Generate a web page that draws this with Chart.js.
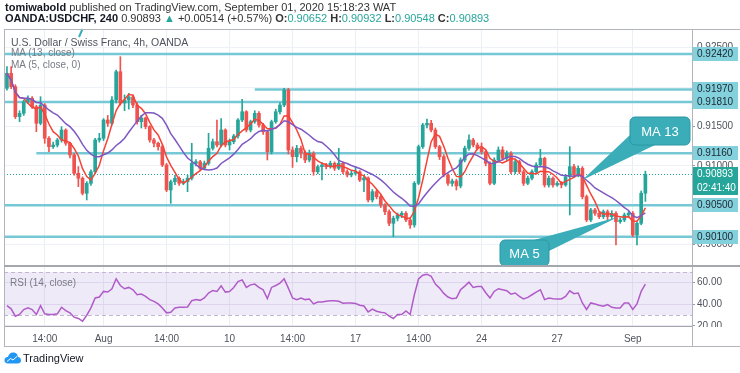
<!DOCTYPE html>
<html lang="en">
<head>
<meta charset="UTF-8">
<title>USDCHF 4h</title>
<script src="https://cdn.jsdelivr.net/npm/chart.js"></script>
<style>
  body { margin: 0; background: #fff; font-family: "Liberation Sans", Arial, sans-serif; }
  #wrap { position: relative; width: 740px; height: 373px; overflow: hidden; }
  #chart { position: absolute; left: 0; top: 0; }
  .t { position: absolute; white-space: nowrap; z-index: 2; }
  .g { color: #26a69a; }
  .h1 { left: 5px; top: 1px; font-size: 11px; color: #333; }
  .h2 { left: 5px; top: 12px; font-size: 11px; color: #333; }
  .lg { left: 11px; font-size: 10px; color: #787b86; }
  .logo { left: 4px; top: 352px; font-size: 11px; color: #131722; display: flex; align-items: center; gap: 2px; }
</style>
</head>
<body>
<div id="wrap">
  <canvas id="chart" width="740" height="373"></canvas>
  <div class="t h1"><b style="color:#131722">tomiwabold</b> published on TradingView.com, September 01, 2020 15:18:23 WAT</div>
  <div class="t h2"><b style="color:#131722">OANDA:USDCHF, 240</b> 0.90893 <span class="g">&#9650;</span> +0.00514 (+0.57%) <b>O:</b><span class="g">0.90652</span> <b>H:</b><span class="g">0.90932</span> <b>L:</b><span class="g">0.90548</span> <b>C:</b><span class="g">0.90893</span></div>
  <div class="t lg" style="top:36px;color:#50535e;font-size:10.5px">U.S. Dollar / Swiss Franc, 4h, OANDA</div>
  <div class="t lg" style="top:47px">MA (13, close)</div>
  <div class="t lg" style="top:59px">MA (5, close, 0)</div>
  <div class="t lg" style="top:277px;left:10px">RSI (14, close)</div>
  <div class="t logo">
    <svg width="17" height="12" viewBox="0 0 34 24"><path d="M8 23C3 23 0 19 1 15C2 11 5 10 8 10C9 5 13 1 18 1C24 1 28 5 28 10C31 10 34 13 34 17C34 21 31 23 27 23Z" fill="#2196f3"/><path d="M6 19L13 13L18 16L27 8" stroke="#fff" stroke-width="2" fill="none"/></svg>
    <span>TradingView</span>
  </div>
</div>
<script>
const opens = [
  0.91984,0.92175,0.92005,0.91624,0.91667,0.91814,0.91858,0.91751,0.91540,0.91772,
  0.91350,0.91243,0.91264,0.91328,0.91455,0.91286,0.91138,0.90905,0.90842,0.90651,
  0.90778,0.90925,0.91328,0.91350,0.91582,0.91540,0.91836,0.92195,0.91798,0.91836,
  0.91874,0.91772,0.91560,0.91607,0.91497,0.91328,0.91286,0.91243,0.91011,0.90693,
  0.90798,0.90842,0.90778,0.90798,0.90842,0.91032,0.91052,0.90969,0.91032,0.91223,
  0.91306,0.91264,0.91455,0.91264,0.91306,0.91379,0.91582,0.91687,0.91455,0.91560,
  0.91667,0.91518,0.91433,0.91179,0.91560,0.91687,0.91772,0.91963,0.91201,0.91116,
  0.91223,0.91163,0.91074,0.91159,0.90925,0.90989,0.91011,0.90989,0.91032,0.90969,
  0.91032,0.90925,0.90884,0.90905,0.90922,0.90820,0.90846,0.90566,0.90672,0.90608,
  0.90503,0.90418,0.90270,0.90334,0.90376,0.90397,0.90312,0.90249,0.90778,0.91243,
  0.91518,0.91540,0.91455,0.91243,0.91116,0.90884,0.90778,0.90807,0.90744,0.91074,
  0.91223,0.91328,0.91264,0.91223,0.91179,0.91032,0.90778,0.91074,0.91201,0.91096,
  0.91159,0.90925,0.91052,0.90925,0.90778,0.90842,0.90925,0.91011,0.91096,0.90757,
  0.90842,0.90757,0.90778,0.90757,0.90862,0.90989,0.90884,0.90969,0.90608,0.90312,
  0.90439,0.90397,0.90354,0.90418,0.90354,0.90397,0.90291,0.90312,0.90376,0.90397,
  0.90122,0.90270,0.90652
];
const highs = [
  0.92259,0.92259,0.92030,0.91700,0.91836,0.91890,0.91880,0.91770,0.91878,0.91790,
  0.91370,0.91300,0.91350,0.91497,0.91470,0.91300,0.91160,0.90990,0.90860,0.90800,
  0.90950,0.91350,0.91413,0.91600,0.91640,0.91878,0.92216,0.92386,0.91900,0.91920,
  0.91900,0.91800,0.91640,0.91620,0.91510,0.91350,0.91300,0.91264,0.91030,0.90820,
  0.90880,0.90860,0.90830,0.90880,0.91286,0.91080,0.91070,0.91060,0.91413,0.91340,
  0.91582,0.91600,0.91470,0.91340,0.91400,0.91600,0.91845,0.91700,0.91580,0.91700,
  0.91690,0.91540,0.91450,0.91580,0.91720,0.91800,0.91984,0.91984,0.91240,0.91260,
  0.91250,0.91190,0.91200,0.91180,0.91010,0.91040,0.91030,0.91060,0.91050,0.91223,
  0.91050,0.90950,0.90930,0.90990,0.90940,0.90880,0.90860,0.90700,0.90690,0.90630,
  0.90520,0.90440,0.90360,0.90400,0.90420,0.90420,0.90340,0.90800,0.91264,0.91540,
  0.91594,0.91578,0.91480,0.91260,0.91140,0.90900,0.90830,0.90830,0.91100,0.91250,
  0.91392,0.91350,0.91290,0.91290,0.91200,0.91050,0.91100,0.91240,0.91243,0.91190,
  0.91180,0.91080,0.91070,0.90950,0.90870,0.90950,0.91040,0.91210,0.91110,0.90870,
  0.90860,0.90800,0.90800,0.90890,0.91243,0.91020,0.91000,0.90990,0.90630,0.90460,
  0.90460,0.90420,0.90440,0.90440,0.90430,0.90420,0.90340,0.90400,0.90420,0.90420,
  0.90290,0.90680,0.90932
];
const lows = [
  0.91960,0.91980,0.91600,0.91560,0.91640,0.91790,0.91730,0.91433,0.91520,0.91286,
  0.91180,0.91220,0.91240,0.91300,0.91260,0.91100,0.90880,0.90736,0.90630,0.90566,
  0.90750,0.90900,0.91300,0.91320,0.91500,0.91520,0.91800,0.91770,0.91700,0.91720,
  0.91740,0.91530,0.91480,0.91470,0.91300,0.91240,0.91200,0.90990,0.90672,0.90524,
  0.90760,0.90750,0.90760,0.90672,0.90820,0.91000,0.90940,0.90950,0.91010,0.91200,
  0.91240,0.91240,0.91240,0.91201,0.91280,0.91350,0.91560,0.91430,0.91430,0.91540,
  0.91490,0.91400,0.91074,0.91150,0.91540,0.91660,0.91750,0.91150,0.90980,0.91050,
  0.91100,0.91040,0.91050,0.90880,0.90900,0.90820,0.90960,0.90970,0.90940,0.90950,
  0.90900,0.90860,0.90860,0.90880,0.90800,0.90672,0.90540,0.90540,0.90580,0.90470,
  0.90380,0.90240,0.90100,0.90300,0.90340,0.90290,0.90206,0.90220,0.90760,0.91220,
  0.91480,0.91430,0.91220,0.91080,0.90860,0.90750,0.90740,0.90693,0.90720,0.91050,
  0.91200,0.91240,0.91200,0.91150,0.91000,0.90757,0.90760,0.91050,0.91070,0.91070,
  0.90900,0.90900,0.90900,0.90750,0.90760,0.90820,0.90900,0.90990,0.90730,0.90730,
  0.90730,0.90740,0.90720,0.90740,0.90376,0.90860,0.90860,0.90580,0.90290,0.90290,
  0.90370,0.90330,0.90330,0.90300,0.90330,0.89995,0.90270,0.90290,0.90350,0.90100,
  0.89995,0.90250,0.90548
];
const closes = [
  0.92175,0.92005,0.91624,0.91667,0.91814,0.91858,0.91751,0.91540,0.91772,0.91350,
  0.91243,0.91264,0.91328,0.91455,0.91286,0.91138,0.90905,0.90842,0.90651,0.90778,
  0.90925,0.91328,0.91350,0.91582,0.91540,0.91836,0.92195,0.91798,0.91836,0.91874,
  0.91772,0.91560,0.91607,0.91497,0.91328,0.91286,0.91243,0.91011,0.90693,0.90798,
  0.90842,0.90778,0.90798,0.90842,0.91032,0.91052,0.90969,0.91032,0.91223,0.91306,
  0.91264,0.91455,0.91264,0.91306,0.91379,0.91582,0.91687,0.91455,0.91560,0.91667,
  0.91518,0.91433,0.91179,0.91560,0.91687,0.91772,0.91963,0.91201,0.91116,0.91223,
  0.91163,0.91074,0.91159,0.90925,0.90989,0.91011,0.90989,0.91032,0.90969,0.91032,
  0.90925,0.90884,0.90905,0.90922,0.90820,0.90846,0.90566,0.90672,0.90608,0.90503,
  0.90418,0.90270,0.90334,0.90376,0.90397,0.90312,0.90249,0.90778,0.91243,0.91518,
  0.91540,0.91455,0.91243,0.91116,0.90884,0.90778,0.90807,0.90744,0.91074,0.91223,
  0.91328,0.91264,0.91223,0.91179,0.91032,0.90778,0.91074,0.91201,0.91096,0.91159,
  0.90925,0.91052,0.90925,0.90778,0.90842,0.90925,0.91011,0.91096,0.90757,0.90842,
  0.90757,0.90778,0.90757,0.90862,0.90989,0.90884,0.90969,0.90608,0.90312,0.90439,
  0.90397,0.90354,0.90418,0.90354,0.90397,0.90291,0.90312,0.90376,0.90397,0.90122,
  0.90270,0.90652,0.90893
];
const rsiValues = [
  38.7,35.7,28.9,30.5,35.1,36.6,35.1,30.5,38.7,31.1,
  30.5,30.5,31.1,37.2,34.1,32.0,28.0,26.8,24.3,29.8,
  36.6,45.8,46.7,51.9,51.3,54.4,63.6,57.4,54.4,55.6,
  53.4,48.8,49.4,47.3,44.3,42.7,40.3,36.6,32.0,32.6,
  36.6,37.2,37.2,37.5,43.3,44.3,43.6,45.8,50.4,52.8,
  51.9,57.1,51.3,51.9,55.6,61.1,62.6,55.6,58.0,58.7,
  55.6,53.4,45.2,55.6,57.4,59.6,63.6,55.0,45.8,44.3,
  45.8,44.3,44.9,40.3,42.1,42.1,42.7,43.3,43.3,42.7,
  40.9,41.2,41.2,40.6,39.0,38.4,32.9,35.4,33.5,32.6,
  32.0,28.9,26.8,30.5,30.5,33.8,30.5,48.8,63.6,66.9,
  67.9,66.0,58.7,55.0,50.1,46.7,45.2,45.8,53.4,56.8,
  60.5,55.6,56.5,56.5,50.7,45.8,51.9,54.4,53.4,52.5,
  49.4,50.4,47.3,44.9,46.4,48.8,51.3,53.4,44.3,45.8,
  45.2,44.9,44.9,47.3,52.5,49.8,50.4,41.2,35.1,41.2,
  40.3,39.0,38.1,39.7,37.2,36.6,36.6,41.2,41.2,35.1,
  40.3,51.9,58.7
];

const timeTickIdx = [9, 23, 38, 53, 68, 83, 98, 113, 131, 149];
const timeTickText = ['14:00', 'Aug', '14:00', '10', '14:00', '17', '14:00', '24', '27', 'Sep'];
const priceTicks = [0.900, 0.905, 0.910, 0.915, 0.920, 0.925];
const rsiTicks = [20, 40, 60];
const levels = [0.92420, 0.91970, 0.91810, 0.91160, 0.90500, 0.90100];
const levelFrom = [null, 59, null, 7, null, null];
const lastPrice = 0.90893;
const countdown = '02:41:40';

const UP = '#26a69a', DOWN = '#ef5350';
const FONT = '"Liberation Sans", Arial, sans-serif';

function sma(arr, n) {
  return arr.map((_, i) => {
    const s = arr.slice(Math.max(0, i - n + 1), i + 1);
    return s.reduce((a, b) => a + b, 0) / s.length;
  });
}
const ma13 = sma(closes, 13);
const ma5 = sma(closes, 5);
const candleColor = closes.map((c, i) => (c >= opens[i] ? UP : DOWN));

function hline(ctx, x0, x1, y) {
  ctx.beginPath();
  ctx.moveTo(x0, y);
  ctx.lineTo(x1, y);
  ctx.stroke();
}

function tag(ctx, y, text, bg, fg) {
  ctx.fillStyle = bg;
  ctx.fillRect(693, Math.round(y) - 7, 45, 14);
  ctx.fillStyle = fg;
  ctx.font = '10px ' + FONT;
  ctx.textBaseline = 'middle';
  ctx.textAlign = 'left';
  ctx.fillText(text, 697, Math.round(y) + 0.5);
}

function callout(ctx, box, base, tip, text) {
  ctx.fillStyle = '#3aadb9';
  ctx.strokeStyle = '#2b98a4';
  ctx.lineWidth = 1;
  ctx.beginPath();
  ctx.moveTo(base[0][0], base[0][1]);
  ctx.lineTo(tip[0], tip[1]);
  ctx.lineTo(base[1][0], base[1][1]);
  ctx.closePath();
  ctx.fill();
  ctx.beginPath();
  ctx.roundRect(box[0], box[1], box[2], box[3], 5);
  ctx.fill();
  ctx.stroke();
  ctx.fillStyle = '#fff';
  ctx.font = '13px ' + FONT;
  ctx.textAlign = 'center';
  ctx.textBaseline = 'middle';
  ctx.fillText(text, box[0] + box[2] / 2, box[1] + box[3] / 2 + 1);
}

const overlay = {
  id: 'overlay',
  beforeDatasetsDraw(chart) {
    const { ctx, chartArea: a, scales: { x, y, rsi } } = chart;
    ctx.save();
    const y70 = rsi.getPixelForValue(70), y30 = rsi.getPixelForValue(30);
    ctx.fillStyle = 'rgba(149,117,205,0.15)';
    ctx.fillRect(a.left, y70, a.right - a.left, y30 - y70);
    ctx.strokeStyle = '#c4b6d0';
    ctx.lineWidth = 1;
    ctx.setLineDash([4, 3]);
    hline(ctx, a.left, a.right, Math.round(y70) + 0.5);
    hline(ctx, a.left, a.right, Math.round(y30) + 0.5);
    ctx.setLineDash([]);

    ctx.strokeStyle = '#76c8d6';
    ctx.lineWidth = 2.5;
    levels.forEach((v, k) => {
      const x0 = levelFrom[k] == null ? a.left : x.getPixelForValue(levelFrom[k]);
      hline(ctx, x0, a.right, y.getPixelForValue(v));
    });

    ctx.strokeStyle = UP;
    ctx.lineWidth = 1;
    ctx.setLineDash([1, 2]);
    hline(ctx, a.left, a.right, Math.round(y.getPixelForValue(lastPrice)) + 0.5);
    ctx.setLineDash([]);
    ctx.restore();
  },
  afterDraw(chart) {
    const { ctx, scales: { x, y } } = chart;
    ctx.save();
    ctx.fillStyle = '#fff';
    ctx.fillRect(693, 327, 47, 19);

    levels.forEach(v => tag(ctx, y.getPixelForValue(v), v.toFixed(5), '#82d1dd', '#1c2630'));
    const py = y.getPixelForValue(lastPrice);
    tag(ctx, py, lastPrice.toFixed(5), UP, '#fff');
    tag(ctx, py + 14, countdown, UP, '#fff');

    callout(ctx, [630, 117, 60, 28], [[631, 134], [655, 145]],
      [x.getPixelForValue(137), y.getPixelForValue(0.90820)], 'MA 13');
    callout(ctx, [500, 240, 49, 26], [[534, 240], [549, 251]],
      [x.getPixelForValue(145.5), y.getPixelForValue(0.90350)], 'MA 5');

    ctx.strokeStyle = '#3aadb9';
    ctx.lineWidth = 2;
    ctx.beginPath();
    ctx.moveTo(82.5, 29);
    ctx.lineTo(79, 37);
    ctx.stroke();

    ctx.strokeStyle = '#b2b5bc';
    ctx.lineWidth = 1;
    hline(ctx, 4, 740, 29.5);
    hline(ctx, 4, 740, 346.5);
    ctx.beginPath();
    ctx.moveTo(4.5, 29.5); ctx.lineTo(4.5, 346.5);
    ctx.moveTo(692.5, 29.5); ctx.lineTo(692.5, 346.5);
    ctx.stroke();
    ctx.strokeStyle = '#a4a7ae';
    ctx.lineWidth = 2;
    hline(ctx, 4, 740, 266);
    ctx.restore();
  }
};

new Chart(document.getElementById('chart'), {
  type: 'bar',
  data: {
    datasets: [
      {
        type: 'line', label: 'MA 13', data: ma13.map((v, i) => ({ x: i, y: v })),
        yAxisID: 'y', borderColor: '#7e57c2', borderWidth: 1.5, pointRadius: 0, order: 0
      },
      {
        type: 'line', label: 'MA 5', data: ma5.map((v, i) => ({ x: i, y: v })),
        yAxisID: 'y', borderColor: '#f44336', borderWidth: 1.5, pointRadius: 0, order: 1
      },
      {
        type: 'line', label: 'RSI', data: rsiValues.map((v, i) => ({ x: i, y: v })),
        yAxisID: 'rsi', borderColor: '#b05cc8', borderWidth: 1.5, pointRadius: 0, order: 1
      },
      {
        label: 'Body', data: closes.map((c, i) => ({ x: i, y: [opens[i], c] })),
        yAxisID: 'y', backgroundColor: candleColor, barThickness: 3, grouped: false, order: 2
      },
      {
        label: 'Wick', data: highs.map((h, i) => ({ x: i, y: [lows[i], h] })),
        yAxisID: 'y', backgroundColor: candleColor, barThickness: 1, grouped: false, order: 3
      }
    ]
  },
  options: {
    responsive: false,
    devicePixelRatio: 1,
    animation: false,
    layout: { padding: { left: 4, top: 30, right: 0, bottom: 27 } },
    plugins: { legend: { display: false }, tooltip: { enabled: false } },
    scales: {
      x: {
        type: 'linear', min: -0.7, max: 163.1, offset: false,
        afterBuildTicks: s => { s.ticks = timeTickIdx.map(v => ({ value: v })); },
        afterFit: s => { s.height = 20; },
        ticks: {
          autoSkip: false, maxRotation: 0, padding: 7, color: '#50535e',
          font: { size: 10, family: FONT },
          callback: (v, i) => timeTickText[i]
        },
        grid: { color: '#e9eff4', drawTicks: false, offset: false },
        border: { color: '#a4a7ae' }
      },
      y: {
        position: 'right', stack: 'panes', stackWeight: 236,
        min: 0.897277, max: 0.927248,
        afterBuildTicks: s => { s.ticks = priceTicks.map(v => ({ value: v })); },
        afterFit: s => { s.width = 48; },
        ticks: { color: '#50535e', padding: 2, font: { size: 10, family: FONT }, callback: v => v.toFixed(5) },
        grid: { color: '#eef2f6', tickColor: '#9598a1', tickLength: 3 },
        border: { color: '#b2b5bc' }
      },
      rsi: {
        position: 'right', stack: 'panes', stackWeight: 60,
        min: 19.8, max: 75.5,
        afterBuildTicks: s => { s.ticks = rsiTicks.map(v => ({ value: v })); },
        afterFit: s => { s.width = 48; },
        ticks: { color: '#50535e', padding: 2, font: { size: 10, family: FONT }, callback: v => v.toFixed(2) },
        grid: { color: '#ece6f3', tickColor: '#9598a1', tickLength: 3 },
        border: { color: '#b2b5bc' }
      }
    }
  },
  plugins: [overlay]
});
</script>
</body>
</html>
